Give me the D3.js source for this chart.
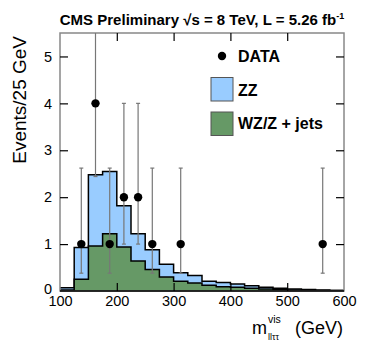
<!DOCTYPE html>
<html>
<head>
<meta charset="utf-8">
<script src="https://cdn.jsdelivr.net/npm/d3@7"></script>
<style>
  body { margin: 0; background: #fff; }
  text { font-family: "Liberation Sans", Arial, sans-serif; }
</style>
</head>
<body>
<div id="chart"></div>
<script>
// bin lower edges (GeV), 25 GeV wide
const binLow = [100, 125, 150, 175, 200, 225, 250, 275, 300, 325, 350, 375, 400, 425, 450, 475, 500, 525, 550, 575]
const binWidth = 25

// stacked MC
const wzJets = [0.02, 0.25, 0.96, 1.22, 0.94, 0.64, 0.46, 0.30, 0.21, 0.17, 0.12, 0.09, 0.08, 0.06, 0.04, 0.03, 0.02, 0.01, 0.01, 0.01]
const zz     = [0.05, 0.68, 1.52, 1.33, 0.88, 0.58, 0.42, 0.27, 0.18, 0.16, 0.09, 0.09, 0.07, 0.05, 0.04, 0.03, 0.02, 0.02, 0.01, 0.00]

// observed data
const dataX  = [137.5, 162.5, 187.5, 212.5, 237.5, 262.5, 312.5, 562.5]
const dataN  = [1, 4, 1, 2, 2, 1, 1, 1]
const dataLo = [0.38, 2.44, 0.38, 1.0, 1.0, 0.38, 0.38, 0.38]
const dataHi = [2.62, 6.56, 2.62, 4.0, 4.0, 2.62, 2.62, 2.62]

const xTicks = [100, 200, 300, 400, 500, 600]
const yTicks = [0, 1, 2, 3, 4, 5]

const size = [374, 351]
const margin = ({top: 33, right: 30, bottom: 60, left: 60})

const svg = d3.select("#chart").append("svg")
  .attr("width", size[0])
  .attr("height", size[1])

const x = d3.scaleLinear()
  .domain([100, 600])
  .range([margin.left, size[0] - margin.right])

const y = d3.scaleLinear()
  .domain([0, 5.5])
  .range([size[1] - margin.bottom, margin.top])

const defs = svg.append("defs")
defs.append("clipPath").attr("id", "plot-clip")
  .append("rect")
  .attr("x", margin.left).attr("y", margin.top)
  .attr("width", x(600) - x(100)).attr("height", y(0) - y(5.5))

// stack
const bins = binLow.map((lo, i) => ({lo: lo, wz: wzJets[i], tot: wzJets[i] + zz[i]}))
const stepPts = bins.concat([{lo: binLow[binLow.length - 1] + binWidth, wz: bins[bins.length - 1].wz, tot: bins[bins.length - 1].tot}])

const areaTot = d3.area().curve(d3.curveStepAfter)
  .x(d => x(d.lo)).y0(y(0)).y1(d => y(d.tot))
const areaWz = d3.area().curve(d3.curveStepAfter)
  .x(d => x(d.lo)).y0(y(0)).y1(d => y(d.wz))
const lineTot = d3.line().curve(d3.curveStepAfter)
  .x(d => x(d.lo)).y(d => y(d.tot))
const lineWz = d3.line().curve(d3.curveStepAfter)
  .x(d => x(d.lo)).y(d => y(d.wz))

const hist = svg.append("g").attr("clip-path", "url(#plot-clip)")
hist.append("path").attr("d", areaTot(stepPts)).attr("fill", "#99ccff")
hist.append("path").attr("d", lineTot(stepPts)).attr("fill", "none")
  .attr("stroke", "#000").attr("stroke-width", 1.5)
hist.append("path").attr("d", areaWz(stepPts)).attr("fill", "#669966")
hist.append("path").attr("d", lineWz(stepPts)).attr("fill", "none")
  .attr("stroke", "#000").attr("stroke-width", 1.5)

// frame
svg.append("rect")
  .attr("x", x(100)).attr("y", y(5.5))
  .attr("width", x(600) - x(100)).attr("height", y(0) - y(5.5))
  .attr("fill", "none").attr("stroke", "#888").attr("stroke-width", 1.5)

// axes, ticks inside
const axisStyle = g => {
  g.select(".domain").remove()
  g.selectAll(".tick line").attr("stroke", "#000").attr("stroke-width", 1.2)
  g.selectAll("text").attr("font-size", 14.5).attr("fill", "#000")
    .attr("font-family", "Liberation Sans, Arial, sans-serif")
}

svg.append("g")
  .attr("transform", `translate(0,${y(0)})`)
  .call(d3.axisBottom(x).tickValues(xTicks).tickSize(-8).tickPadding(5).tickFormat(d3.format("d")))
  .call(axisStyle)
  .call(g => g.selectAll(".tick line").filter(d => d === 100 || d === 600).remove())

svg.append("g")
  .attr("transform", `translate(0,${y(5.5)})`)
  .call(d3.axisTop(x).tickValues(xTicks).tickSize(-8).tickFormat(""))
  .call(axisStyle)
  .call(g => g.selectAll(".tick line").filter(d => d === 100 || d === 600).remove())

svg.append("g")
  .attr("transform", `translate(${x(100)},0)`)
  .call(d3.axisLeft(y).tickValues(yTicks).tickSize(-8).tickPadding(8).tickFormat(d3.format("d")))
  .call(axisStyle)
  .call(g => g.selectAll(".tick line").filter(d => d === 0).remove())
  .call(g => g.selectAll(".tick text").filter(d => d === 0).attr("dy", "0.15em"))

svg.append("g")
  .attr("transform", `translate(${x(600)},0)`)
  .call(d3.axisRight(y).tickValues(yTicks).tickSize(-8).tickFormat(""))
  .call(axisStyle)
  .call(g => g.selectAll(".tick line").filter(d => d === 0).remove())

// bottom line drawn black over the frame
svg.append("line")
  .attr("x1", x(100)).attr("x2", x(600))
  .attr("y1", y(0)).attr("y2", y(0))
  .attr("stroke", "#000").attr("stroke-width", 1.5)

// data with error bars
const pts = dataX.map((d, i) => ({x: d, n: dataN[i], lo: dataLo[i], hi: dataHi[i]}))
const dataG = svg.append("g").attr("clip-path", "url(#plot-clip)")
const err = dataG.selectAll("g.err").data(pts).join("g").attr("class", "err")
  .attr("stroke", "#777").attr("stroke-width", 1.2)
err.append("line")
  .attr("x1", d => x(d.x)).attr("x2", d => x(d.x))
  .attr("y1", d => y(d.lo)).attr("y2", d => y(d.hi))
err.append("line")
  .attr("x1", d => x(d.x) - 2).attr("x2", d => x(d.x) + 2)
  .attr("y1", d => y(d.lo)).attr("y2", d => y(d.lo))
err.append("line")
  .attr("x1", d => x(d.x) - 2).attr("x2", d => x(d.x) + 2)
  .attr("y1", d => y(d.hi)).attr("y2", d => y(d.hi))
dataG.selectAll("circle").data(pts).join("circle")
  .attr("cx", d => x(d.x)).attr("cy", d => y(d.n))
  .attr("r", 4.2).attr("fill", "#000")

// legend
const legend = svg.append("g").attr("font-size", 16).attr("font-weight", "bold")
legend.append("circle").attr("cx", 222).attr("cy", 56).attr("r", 4.2).attr("fill", "#000")
legend.append("text").attr("x", 238).attr("y", 61.5).text("DATA")
legend.append("rect").attr("x", 211).attr("y", 77.5).attr("width", 22).attr("height", 23.5)
  .attr("fill", "#99ccff").attr("stroke", "#555").attr("stroke-width", 1)
legend.append("text").attr("x", 238).attr("y", 96).text("ZZ")
legend.append("rect").attr("x", 211).attr("y", 112).attr("width", 22).attr("height", 23.5)
  .attr("fill", "#669966").attr("stroke", "#555").attr("stroke-width", 1)
legend.append("text").attr("x", 238).attr("y", 128.5).text("WZ/Z + jets")

// title
const title = svg.append("text")
  .attr("x", 202).attr("y", 25)
  .attr("text-anchor", "middle")
  .attr("font-size", 15).attr("font-weight", "bold")
title.append("tspan").text("CMS Preliminary \u221As = 8 TeV, L = 5.26 fb")
title.append("tspan").attr("dy", -6).attr("font-size", 9).text("-1")

// y title
svg.append("text")
  .attr("transform", "translate(26,36) rotate(-90)")
  .attr("text-anchor", "end")
  .attr("font-size", 19)
  .text("Events/25 GeV")

// x title: m, sup "vis", sub "llττ", then (GeV)
svg.append("text").attr("x", 252).attr("y", 334).attr("font-size", 18).text("m")
svg.append("text").attr("x", 268).attr("y", 323).attr("font-size", 10.5).text("vis")
svg.append("text").attr("x", 268).attr("y", 340).attr("font-size", 9).text("ll\u03C4\u03C4")
svg.append("text").attr("x", 343).attr("y", 334).attr("text-anchor", "end")
  .attr("font-size", 18).text("(GeV)")
</script>
</body>
</html>
